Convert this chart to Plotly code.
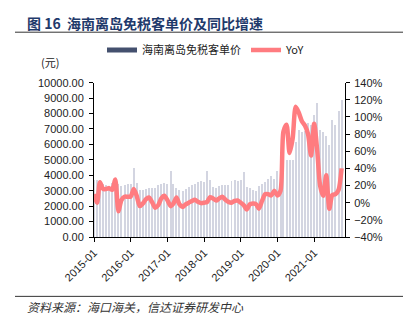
import pandas as pd
import plotly.graph_objects as go

# Monthly data, 2015-01 .. 2021-10
months = pd.date_range("2015-01-01", periods=82, freq="MS")

spend_per_customer = [
    # 2015
    3700, 3720, 3700, 3450, 3400, 3350, 3500, 3630, 3450, 3350, 3400, 3450,
    # 2016
    3450, 4470, 3530, 3060, 3060, 3120, 3180, 3180, 3220, 3380, 3440, 3530,
    # 2017
    3450, 4300, 3440, 3200, 3060, 3000, 3120, 3270, 3400, 3440, 3610, 3650,
    # 2018
    3600, 4290, 3700, 3270, 3190, 3340, 3380, 3400, 3420, 3650, 3700, 3650,
    # 2019
    3700, 4250, 3270, 3200, 3060, 3020, 3340, 3440, 3610, 3760, 3980, 3800,
    # 2020
    4290, 3800, 4600, 5000, 5040, 5040, 6200, 6960, 6850, 6900, 7400, 7300,
    # 2021
    7900, 8720, 6960, 6850, 6550, 6000, 7600, 7300, 8200, 8900,
]

yoy = [
    # 2015
    10, 0, 24, 16, 16, 17, 15, 27, -10, 3, 7, 7,
    # 2016
    7, 16, 8, -4, -1, 4, 6, 0.7, -6, -3, 5, 8,
    # 2017
    3, -4, -1, 6, -2, -5, -2, 0, 2, 3.5, 1, -0.5,
    # 2018
    0, 1, 6.5, 5, 2.6, 5, 7, 3.5, 1, 0, 2, 2.6,
    # 2019
    0, -3, -8, -2, -1, -1.6, -7, 2, 10, 10, 8.5, 14,
    # 2020
    8.5, 14, 83, 91, 58, 75, 112, 105, 95, 90, 80, 55,
    # 2021
    92, 60, 20, 8, 32, -7, 9, 10, 15, 40,
]

bar_name = "海南离岛免税客单价"
line_name = "YoY"
title_text = "<b>图 16  海南离岛免税客单价及同比增速</b>"
source_text = "<i>资料来源：海口海关，信达证券研发中心</i>"
unit_text = "(元)"

CJK = "Noto Sans CJK SC"
LAT = "Liberation Sans, Arial, sans-serif"

W, H = 411, 322
L, R, T, B = 94, 345, 81, 237


def px_x(x):
    return (x - L) / (R - L)


def px_y(y):
    return (B - y) / (B - T)


fig = go.Figure()

fig.add_trace(go.Bar(
    x=months, y=spend_per_customer, name=bar_name,
    marker=dict(color="#D3D5E1", line=dict(width=0)),
    width=10 * 24 * 3600 * 1000,
    showlegend=False, yaxis="y",
))
fig.add_trace(go.Scatter(
    x=months, y=yoy, name=line_name, mode="lines",
    line=dict(color="#FF7C80", width=4.5, shape="spline", smoothing=0.7),
    yaxis="y2", showlegend=False,
))
# legend entries
fig.add_trace(go.Scatter(
    x=[None], y=[None], name=bar_name, mode="lines",
    line=dict(color="#44506E", width=5), showlegend=True,
))
fig.add_trace(go.Scatter(
    x=[None], y=[None], name=line_name, mode="lines",
    line=dict(color="#FF7C80", width=4.5), showlegend=True, yaxis="y2",
))

axis_font = dict(family=LAT, size=11, color="#222222")

fig.update_layout(
    width=W, height=H,
    margin=dict(l=L, r=W - R, t=T, b=H - B),
    paper_bgcolor="white", plot_bgcolor="white",
    bargap=0,
    font=dict(family=CJK, size=11, color="#222222"),
    xaxis=dict(
        type="date",
        range=["2015-01-01", "2021-11-04"],
        tick0="2015-01-01", dtick="M12", tickformat="%Y-%m",
        tickangle=-45, ticks="outside", ticklen=4, tickcolor="#000",
        showline=True, linecolor="#000", linewidth=1,
        showgrid=False, zeroline=False, tickfont=axis_font,
    ),
    yaxis=dict(
        range=[0, 10000], dtick=1000, tickformat=".2f",
        ticks="outside", ticklen=4, tickcolor="#000",
        showline=True, linecolor="#000", linewidth=1, ticklabelstandoff=3,
        showgrid=False, zeroline=False, tickfont=axis_font,
    ),
    yaxis2=dict(
        range=[-40, 140], dtick=20, ticksuffix="%",
        overlaying="y", side="right",
        ticks="outside", ticklen=4, tickcolor="#000", ticklabelstandoff=2,
        showline=True, linecolor="#000", linewidth=1,
        showgrid=False, zeroline=False, tickfont=axis_font,
    ),
    legend=dict(
        orientation="h", x=102 / W, xanchor="left", y=1 - 50 / H,
        yanchor="middle", xref="container", yref="container",
        font=dict(family=CJK, size=11, color="#222222"),
        itemwidth=30, traceorder="normal",
        bgcolor="rgba(0,0,0,0)",
    ),
    annotations=[
        dict(text=title_text, x=px_x(25), y=px_y(21), xref="paper", yref="paper",
             xanchor="left", yanchor="middle", showarrow=False,
             font=dict(family=CJK, size=14, color="#1F3A6B")),
        dict(text=unit_text, x=px_x(50), y=px_y(60), xref="paper", yref="paper",
             xanchor="center", yanchor="middle", showarrow=False,
             font=dict(family=CJK, size=11, color="#222222")),
        dict(text=source_text, x=px_x(25), y=px_y(307), xref="paper", yref="paper",
             xanchor="left", yanchor="middle", showarrow=False,
             font=dict(family=CJK, size=12, color="#333333")),
    ],
    shapes=[
        dict(type="line", xref="paper", yref="paper", x0=px_x(15), x1=px_x(403),
             y0=px_y(30), y1=px_y(30), line=dict(color="#333333", width=1)),
        dict(type="line", xref="paper", yref="paper", x0=px_x(15), x1=px_x(403),
             y0=px_y(297), y1=px_y(297), line=dict(color="#333333", width=1)),
    ],
)

fig.write_html("out.html")
